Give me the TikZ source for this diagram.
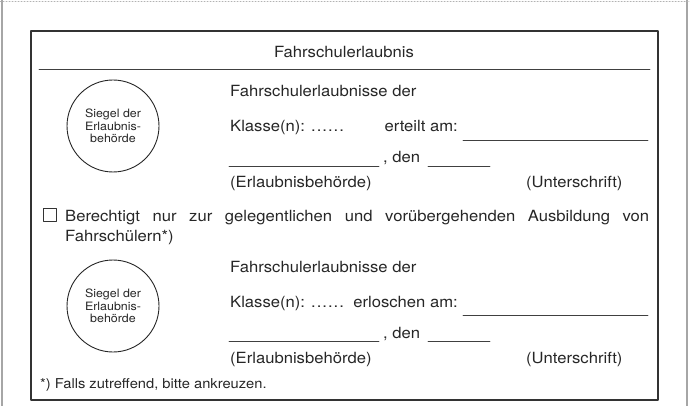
\documentclass[tikz,border=0pt]{standalone}
\usepackage{fontspec}
\setmainfont{TeX Gyre Heros}[FakeStretch=1.08]
\newcommand{\punkte}{.\kern1pt.\kern1pt.\kern1pt.\kern1pt.\kern1pt.}
\begin{document}
\begin{tikzpicture}[x=1pt,y=-1pt, inner sep=0pt, font=\fontsize{15.4}{18}\selectfont, line join=round, line cap=round, text=black!85,
	strich/.style={black!75, line width=0.8pt},
	siegel/.style={circle, draw=black!85, line width=0.9pt, minimum size=92pt, align=center, font=\fontsize{11.5}{12.5}\selectfont},
	kaestchen/.style={draw=black!80, line width=0.9pt, minimum size=13pt}]
	\useasboundingbox (0,0) rectangle (690,406);
	% Blatt
	\draw[gray!70, line width=1.5pt] (2,0)--(2,406);
	\draw[gray!70, line width=1.5pt] (687,0)--(687,406);
	\draw[gray!60, dotted, line width=1pt] (0,2)--(690,2);
	% Rahmen
	\draw[black!80, line width=1.3pt] (31,31) rectangle (658,400);
	\node[anchor=base] (titel) at (344,58) {Fahrschulerlaubnis};
	\draw[strich] (39,69)--(650,69);
	\foreach \dy/\cy/\wort [count=\i] in {0/126/erteilt am:, 175/306/erloschen am:}{
		\node[siegel] (siegel\i) at (113,\cy) {Siegel der\\Erlaubnis-\\behörde};
		\node[anchor=base west] (kopf\i) at (230,97+\dy) {Fahrschulerlaubnisse der};
		\node[anchor=base west] (klasse\i) at (230,132+\dy) {Klasse(n): \punkte};
		\node[anchor=base east] (datum\i) at (458,132+\dy) {\wort};
		\draw[strich] (463,140+\dy)--(648,140+\dy);
		\draw[strich] (229,166+\dy)--(379,166+\dy);
		\node[anchor=base west] (den\i) at (383,163+\dy) {, den};
		\draw[strich] (428,166+\dy)--(490,166+\dy);
		\node[anchor=base west] (behoerde\i) at (230,188+\dy) {(Erlaubnisbehörde)};
		\node[anchor=base west] (unterschrift\i) at (526,188+\dy) {(Unterschrift)};
	}
	% Hinweis
	\node[kaestchen] (box) at (49.5,215) {};
	\node[anchor=base west] (hinweis) at (65,221) {\makebox[584pt][s]{Berechtigt nur zur gelegentlichen und vorübergehenden Ausbildung von}};
	\node[anchor=base west] (hinweis2) at (65,241) {Fahrschülern*)};
	\node[anchor=base west, font=\fontsize{13.6}{16}\selectfont] (fussnote) at (40,388) {*) Falls zutreffend, bitte ankreuzen.};
\end{tikzpicture}
\end{document}
